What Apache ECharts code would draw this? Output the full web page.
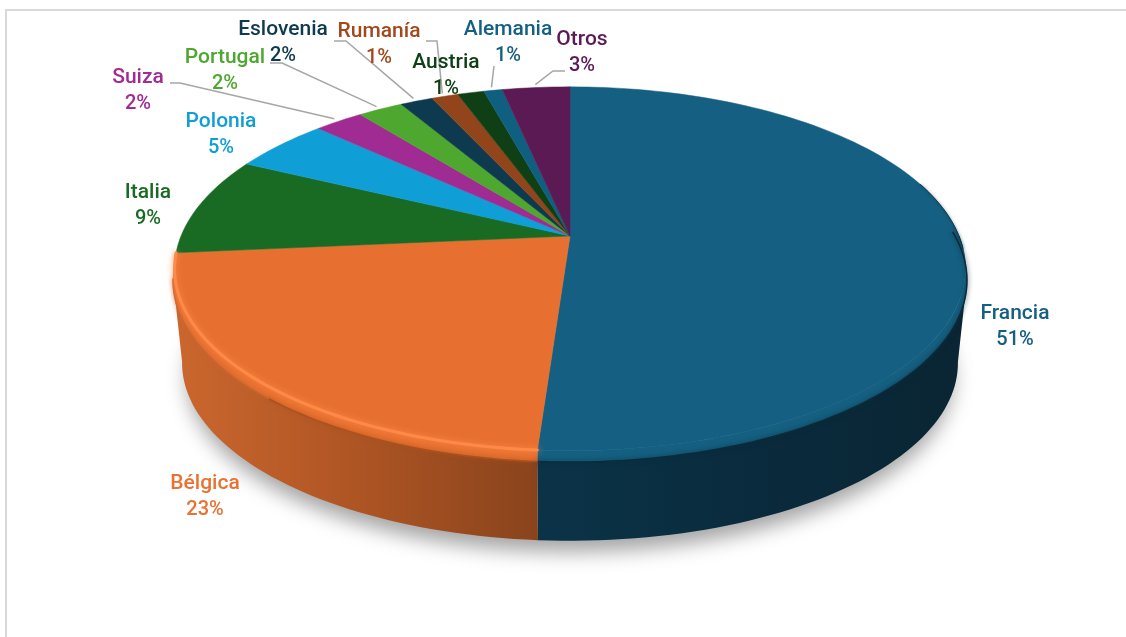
<!DOCTYPE html>
<html><head><meta charset="utf-8">
<style>html,body{margin:0;padding:0;background:#fff}#c{width:1126px;height:637px}</style>
<script src="https://cdn.jsdelivr.net/npm/echarts@6/dist/echarts.min.js"></script>
</head><body><div id="c"></div>
<script>
const categories=['Francia','Bélgica','Italia','Polonia','Suiza','Portugal','Eslovenia','Rumanía','Austria','Alemania','Otros'];
const values=[51.3,22.5,8.8,4.8,2.4,2.2,1.6,1.3,1.3,0.9,3.3];
const percentLabels=['51%','23%','9%','5%','2%','2%','2%','1%','1%','1%','3%'];
const faceColors=['#156082','#E77030','#196B24','#0F9ED5','#A02B93','#4EA72E','#0D3A4F','#92441A','#0F4015','#0F5F80','#5C1A55'];
const textColors=['#156082','#E97132','#196B24','#0F9ED5','#A02B93','#4EA72E','#0D3A4F','#A2481C','#0F4015','#156082','#5C1A55'];
const labelCenters=[[1015,327],[205,497],[148,206],[221,135],[138,91],[225,71],[283,43],[379,45],[446,76],[508,43],[582,53]];
const leaderElbows=[null,null,null,null,[[170,83],[180,83]],[[270,63],[282,63]],[[334,41],[346,41]],[[426,41],[437,41]],null,[[494,66]],[[565,71],[553,71]]];

// Perspective projection of the pie disc
const CX=570,K=0.18;
const TOP={y:236,a:389,b:176};
const EDGE={y:247.5,a:390.5,b:176};
const BOT={y:331,a:381.6,b:172};
function proj(deg,d,r){r=r==null?1:r;const t=deg*Math.PI/180,s=Math.sin(t),c=Math.cos(t),w=1+K*c;
  return [CX+d.a*r*s/w,d.y-d.b*r*c/w];}
function arc(a0,a1,d,r){const n=Math.max(2,Math.ceil(Math.abs(a1-a0)/1.5)),p=[];
  for(let i=0;i<=n;i++)p.push(proj(a0+(a1-a0)*i/n,d,r));return p;}
const total=values.reduce((a,b)=>a+b,0);
let acc=0;
const sliceData=values.map((v,i)=>{const s=acc/total*360;acc+=v;return {name:categories[i],value:[s,acc/total*360,v]};});

const VIS0=100,VIS1=260;
function band(a0,a1,d0,d1){return arc(a0,a1,d0).concat(arc(a1,a0,d1));}
const G=echarts.graphic;
const DARK='#0B2A3A',GLOW='#FF8A48';
function softLine(points,color,width,blur){return {type:'polyline',shape:{points},style:{stroke:color,fill:null,lineWidth:width,lineCap:'round',shadowBlur:blur,shadowColor:color}};}
const series=[
 {type:'custom',coordinateSystem:'none',silent:true,data:[{value:[0,360]}],renderItem(){
   return {type:'polygon',shape:{points:arc(0,360,{y:BOT.y+4,a:BOT.a-5,b:BOT.b-4})},
     style:{fill:'#cccccc',shadowBlur:20,shadowColor:'rgba(0,0,0,0.36)',shadowOffsetY:12}};}},
 {type:'custom',coordinateSystem:'none',silent:true,data:sliceData,renderItem(p,api){
   const a0=Math.max(api.value(0),VIS0),a1=Math.min(api.value(1),VIS1);
   if(a1<=a0)return null;
   const fill=p.dataIndex===0
     ?new G.LinearGradient(0,0,1,0,[{offset:0,color:'#0B3348'},{offset:0.5,color:'#0A2B3D'},{offset:1,color:'#0A2533'}])
     :new G.LinearGradient(0,0,1,0,[{offset:0,color:'#CB672E'},{offset:0.5,color:'#AE5524'},{offset:1,color:'#89431C'}]);
   return {type:'polygon',shape:{points:band(a0,a1,EDGE,BOT)},style:{fill}};}},
 {type:'custom',coordinateSystem:'none',silent:true,data:sliceData.slice(0,2),renderItem(p,api){
   const a0=Math.max(api.value(0),90),a1=Math.min(api.value(1),265),i=p.dataIndex;
   return {type:'polygon',shape:{points:band(a0,a1,TOP,EDGE)},style:{fill:faceColors[i],stroke:faceColors[i],lineWidth:0.5}};}},
 {type:'custom',coordinateSystem:'none',silent:true,data:sliceData,renderItem(p,api){
   const pts=[[CX,TOP.y]].concat(arc(api.value(0),api.value(1),TOP));
   return {type:'polygon',shape:{points:pts},style:{fill:faceColors[p.dataIndex],stroke:faceColors[p.dataIndex],lineWidth:0.5}};}},
 {type:'custom',coordinateSystem:'none',silent:true,data:sliceData.slice(0,2),renderItem(p,api){
   if(p.dataIndex===0){
     return {type:'group',children:[
       softLine(arc(72,94,TOP,1),DARK,0.8,3),
       softLine(arc(85,api.value(1),EDGE,1),DARK,1.5,5)
     ]};
   }
   const a0=api.value(0),a1=api.value(1);
   return {type:'group',children:[
     softLine(arc(a0,222,EDGE,1),'#A9521F',1.5,4),
     softLine(arc(222,VIS1,EDGE,1),'#C9662E',1.5,4),
     softLine(arc(a0,a1,TOP,1),GLOW,3,6)]};
 }},
 {type:'custom',coordinateSystem:'none',silent:true,data:sliceData,renderItem(p,api){
   const el=leaderElbows[p.dataIndex]; if(!el)return null;
   const mid=(api.value(0)+api.value(1))/2;
   return {type:'polyline',shape:{points:el.concat([proj(mid,TOP,1.02)])},
     style:{stroke:'#A6A6A6',lineWidth:1.5,fill:null}};}},
 {type:'custom',coordinateSystem:'none',silent:true,data:sliceData,renderItem(p){
   const i=p.dataIndex,[x,y]=labelCenters[i],c=textColors[i];
   return {type:'text',x,y,style:{text:'{n|'+categories[i]+'}\n{p|'+percentLabels[i]+'}',
     align:'center',verticalAlign:'middle',
     rich:{n:{fill:c,font:'500 21px Roboto, sans-serif',lineHeight:26,align:'center'},
           p:{fill:c,font:'500 20px Roboto, sans-serif',lineHeight:26,align:'center'}}}};}}
];
const chart=echarts.init(document.getElementById('c'),null,{renderer:'canvas'});
chart.setOption({animation:false,backgroundColor:'#ffffff',
 graphic:[{type:'rect',shape:{x:5,y:9,width:1121,height:2},style:{fill:'#D9D9D9'}},
          {type:'rect',shape:{x:5,y:9,width:2,height:628},style:{fill:'#D9D9D9'}}],
 series});
</script></body></html>
